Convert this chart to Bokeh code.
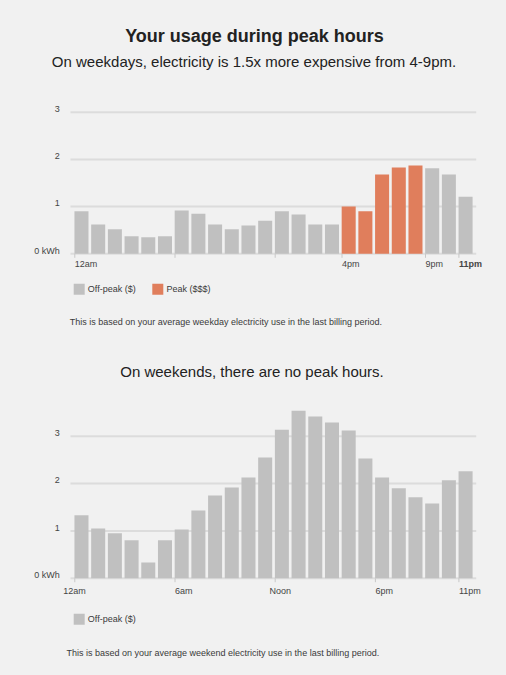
from bokeh.plotting import figure
from bokeh.layouts import column
from bokeh.models import Range1d
from bokeh.core.properties import value
from bokeh.embed import file_html
from bokeh.resources import INLINE

# ---------------- data ----------------
hours = list(range(24))
weekday_kwh = [0.90, 0.62, 0.52, 0.37, 0.35, 0.37, 0.92, 0.85, 0.62, 0.52, 0.60, 0.70,
               0.90, 0.83, 0.62, 0.62, 1.00, 0.90, 1.68, 1.83, 1.87, 1.81, 1.68, 1.21]
peak_start, peak_end = 16, 21          # 4pm - 9pm
weekend_kwh = [1.33, 1.05, 0.95, 0.80, 0.33, 0.80, 1.03, 1.43, 1.75, 1.92, 2.13, 2.55,
               3.14, 3.54, 3.42, 3.29, 3.12, 2.53, 2.13, 1.90, 1.71, 1.58, 2.07, 2.26]
y_ticks = [0, 1, 2, 3]
y_tick_labels = ["0 kWh", "1", "2", "3"]
weekday_x_ticks = [0, 6, 12, 16, 21, 23]
weekday_x_labels = ["12am", "", "", "4pm", "9pm", "11pm"]
weekend_x_ticks = [0, 6, 12, 18, 23]
weekend_x_labels = ["12am", "6am", "Noon", "6pm", "11pm"]
weekday_legend = ["Off-peak ($)", "Peak ($$$)"]
weekend_legend = ["Off-peak ($)"]
main_title = "Your usage during peak hours"
weekday_sub = "On weekdays, electricity is 1.5x more expensive from 4-9pm."
weekend_sub = "On weekends, there are no peak hours."
weekday_note = "This is based on your average weekday electricity use in the last billing period."
weekend_note = "This is based on your average weekend electricity use in the last billing period."

# ---------------- style ----------------
BG = "#f1f1f1"
OFF = "#c0c0c0"
PEAK = "#e07e5c"
GRID = "#dcdcdc"
TICK = "#c8c8c8"
TXT = "#222222"
AX = "#444444"
NOTE = "#3a3a3a"
FONT = value("Liberation Sans")
W = 506
X0, PXH = 74.3, 16.7          # page x of hour 0, px per hour
GRID_L, GRID_R = 70, 475.7
BAR_W = 0.84


def make_panel(top, h, base, unit):
    p = figure(width=W, height=h, output_backend="svg", toolbar_location=None,
               x_axis_type=None, y_axis_type=None, min_border=0,
               x_range=Range1d((0 - X0) / PXH, (W - X0) / PXH),
               y_range=Range1d((base - (top + h)) / unit, (base - top) / unit))
    p.background_fill_color = BG
    p.border_fill_color = BG
    p.outline_line_color = None

    def fx(px):
        return (px - X0) / PXH

    def fy(py):
        return (base - py) / unit
    return p, fx, fy


def draw_chart(p, fx, fy, base, unit, vals, colors, ticks, labels, lab_off, lab_mid,
               lab_styles):
    # gridlines
    p.segment(x0=[fx(GRID_L)] * len(y_ticks), x1=[fx(GRID_R)] * len(y_ticks),
              y0=y_ticks, y1=y_ticks, line_color=GRID, line_width=2)
    # bars
    p.vbar(x=[hh + 0.40 for hh in hours], top=vals, bottom=0, width=BAR_W,
           fill_color=colors, line_color=None)
    # tick marks
    p.segment(x0=ticks, x1=ticks, y0=[0] * len(ticks), y1=[fy(base + 4)] * len(ticks),
              line_color=TICK, line_width=1)
    # y labels (sit just above their gridline)
    p.text(x=[fx(59.3)] * len(y_ticks), y=[v + 3.2 / unit for v in y_ticks],
           text=y_tick_labels, text_align="right", text_baseline="middle",
           text_font=FONT, text_font_size="9px", text_color=AX)
    # x labels
    xs, ts, st = [], [], []
    for t, lab, off, s in zip(ticks, labels, lab_off, lab_styles):
        if lab:
            xs.append(t + off / PXH)
            ts.append(lab)
            st.append(s)
    p.text(x=xs, y=[fy(lab_mid)] * len(xs), text=ts, text_align="left",
           text_baseline="middle", text_font=FONT, text_font_size="9px",
           text_color=AX, text_font_style=st)


def draw_legend(p, fx, fy, cy, items, item_colors, sq_x, txt_x):
    p.scatter(x=[fx(v) for v in sq_x], y=[fy(cy)] * len(items), marker="square",
              size=11, fill_color=item_colors, line_color=None)
    p.text(x=[fx(v) for v in txt_x], y=[fy(cy)] * len(items), text=items,
           text_align="left", text_baseline="middle", text_font=FONT,
           text_font_size="9px", text_color=NOTE)


# ---------------- weekday panel ----------------
TOP1, H1, B1, U1 = 0, 340, 253.3, 47.2
p1, fx1, fy1 = make_panel(TOP1, H1, B1, U1)
p1.text(x=[fx1(254)], y=[fy1(35.5)], text=[main_title], text_align="center",
        text_baseline="middle", text_font=FONT, text_font_size="18px",
        text_font_style="bold", text_color=TXT)
p1.text(x=[fx1(253.5)], y=[fy1(61)], text=[weekday_sub], text_align="center",
        text_baseline="middle", text_font=FONT, text_font_size="15px",
        text_color=TXT)
wd_colors = [PEAK if peak_start <= hh < peak_end else OFF for hh in hours]
draw_chart(p1, fx1, fy1, B1, U1, weekday_kwh, wd_colors, weekday_x_ticks,
           weekday_x_labels, [0, 0, 0, 0, 0, 0], B1 + 10.4,
           ["normal", "normal", "normal", "normal", "normal", "bold"])
draw_legend(p1, fx1, fy1, 288.7, weekday_legend, [OFF, PEAK], [78.7, 157.3], [87.3, 166])
p1.text(x=[fx1(69.3)], y=[fy1(321)], text=[weekday_note], text_align="left",
        text_baseline="middle", text_font=FONT, text_font_size="9px", text_color=NOTE)

# ---------------- weekend panel ----------------
TOP2, H2, B2, U2 = 340, 334, 577.7, 47.3
p2, fx2, fy2 = make_panel(TOP2, H2, B2, U2)
p2.text(x=[fx2(251.5)], y=[fy2(371)], text=[weekend_sub], text_align="center",
        text_baseline="middle", text_font=FONT, text_font_size="15px",
        text_color=TXT)
draw_chart(p2, fx2, fy2, B2, U2, weekend_kwh, [OFF] * len(hours), weekend_x_ticks,
           weekend_x_labels, [-11.6, 0, -5.7, 0, 0], B2 + 12.3,
           ["normal"] * len(weekend_x_ticks))
draw_legend(p2, fx2, fy2, 618.7, weekend_legend, [OFF], [78.7], [87.3])
p2.text(x=[fx2(66)], y=[fy2(652.5)], text=[weekend_note], text_align="left",
        text_baseline="middle", text_font=FONT, text_font_size="9px", text_color=NOTE)

layout = column(p1, p2, spacing=0)

try:
    from bokeh.core.templates import get_env
    tmpl = get_env().from_string(
        '{% extends "file.html" %}{% block postamble %}'
        '<style>html, body { background: #f1f1f1; margin: 0; padding: 0; }</style>'
        '{% endblock %}')
    html = file_html(layout, INLINE, title="Your usage during peak hours", template=tmpl)
except Exception:
    html = file_html(layout, INLINE, title="Your usage during peak hours")

open("out.html", "w").write(html)
